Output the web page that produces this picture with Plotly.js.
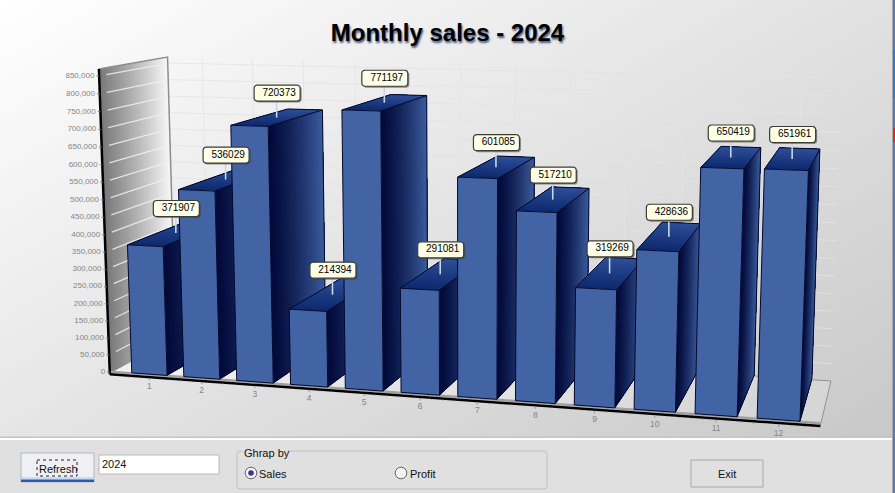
<!DOCTYPE html>
<html><head><meta charset="utf-8">
<script src="https://cdn.plot.ly/plotly-3.0.1.min.js"></script>
<style>
html,body{margin:0;padding:0;width:895px;height:493px;overflow:hidden;background:#e0e0e0}
#bg{position:absolute;left:0;top:0;width:895px;height:438px;background:linear-gradient(150deg,#ffffff 0%,#e6e6e6 45%,#c8c8c8 100%)}
#chart{position:absolute;left:0;top:0;width:895px;height:493px}
</style></head><body>
<div id="bg"></div><div id="chart"></div>
<script>
// ---------- data ----------
const months = [1,2,3,4,5,6,7,8,9,10,11,12];
const sales = [371907,536029,720373,214394,771197,291081,601085,517210,319269,428636,650419,651961];
const yTicks = [0,50000,100000,150000,200000,250000,300000,350000,400000,450000,500000,550000,600000,650000,700000,750000,800000,850000];
const yTickLabels = ["0","50,000","100,000","150,000","200,000","250,000","300,000","350,000","400,000","450,000","500,000","550,000","600,000","650,000","700,000","750,000","800,000","850,000"];

// ---------- perspective projection (month, value, depth) -> plot units ----------
function solve(A,b){const n=b.length;const M=A.map((r,i)=>r.concat(b[i]));
  for(let i=0;i<n;i++){let p=i;for(let j=i+1;j<n;j++)if(Math.abs(M[j][i])>Math.abs(M[p][i]))p=j;
    [M[i],M[p]]=[M[p],M[i]];
    for(let j=0;j<n;j++)if(j!==i){const f=M[j][i]/M[i][i];for(let k=i;k<=n;k++)M[j][k]-=f*M[i][k];}}
  return M.map((r,i)=>r[n]/r[i]);}
const HW=0.34, ZB=1, ZF=-0.05, ZK=0.98, X0=0.3, X1=12.67;
// camera calibration: [bar, side(-1 left/+1 right), top?, screen x, screen y]
const cal=[[1,-1,0,131.7,373.3],[1,-1,1,127.3,245],[1,1,0,167.3,375],[1,1,1,164,246.7],
 [3,-1,1,230,125],[3,1,1,269.3,126],[4,-1,0,290,384],[4,1,0,328.3,386.7],[4,-1,1,288.7,309.3],[4,1,1,326.7,311.7],
 [5,-1,1,341,110],[5,1,1,381,111],[6,-1,0,400,393.3],[7,1,1,498.3,179],[8,-1,0,515.7,400.7],[8,1,1,557.7,212.7],
 [9,-1,0,574,405],[9,1,0,615.7,407.7],[10,-1,0,634,409.3],[10,1,0,676,411.7],[11,-1,0,694.3,414],[11,1,0,737.7,416.7],
 [11,-1,1,699.3,167.3],[11,1,1,744.3,169],[12,-1,0,756,418.3],[12,1,0,800.7,421],[12,-1,1,764,169],[12,1,1,809,170.7]];
const rows=[],rhs=[];
cal.forEach(c=>{const X=c[0]+c[1]*HW,Y=c[2]?sales[c[0]-1]/1e6:0,u=c[3],v=c[4];
  rows.push([X,Y,1,0,0,0,-u*X,-u*Y]);rhs.push(u);
  rows.push([0,0,0,X,Y,1,-v*X,-v*Y]);rhs.push(v);});
const N=8,AtA=[],Atb=[];
for(let i=0;i<N;i++){AtA.push(new Array(N).fill(0));Atb.push(0);
  rows.forEach((r,k)=>{for(let j=0;j<N;j++)AtA[i][j]+=r[i]*r[j];Atb[i]+=r[i]*rhs[k];});}
const h=solve(AtA,Atb);
const VP=[940,-78];
const w7=h[6]*7+h[7]*0.3+1;
const kappa=(0.082/(1-0.082))*w7;
function P(X,V,Z){const Y=V/1e6;
  const u=h[0]*X+h[1]*Y+h[2]+Z*kappa*VP[0];
  const v=h[3]*X+h[4]*Y+h[5]+Z*kappa*VP[1];
  const w=h[6]*X+h[7]*Y+1+Z*kappa;
  return [u/w,v/w];}
// the wall scale of the reference sits slightly apart from the bar scale
const wallV=v=>0.994*v+4000;

const traces=[];
function poly(pts,fill,line,lw){traces.push({type:'scatter',mode:lw?'lines':'none',x:pts.map(p=>p[0]).concat(pts[0][0]),y:pts.map(p=>p[1]).concat(pts[0][1]),
  fill:'toself',fillcolor:fill,line:{color:line||fill,width:lw||0},hoverinfo:'skip',showlegend:false});}
function lines(segs,color,w){const x=[],y=[];segs.forEach(s=>{s.forEach(p=>{x.push(p[0]);y.push(p[1]);});x.push(null);y.push(null);});
  traces.push({type:'scatter',mode:'lines',x,y,line:{color,width:w},hoverinfo:'skip',showlegend:false});}
function texts(pts,txt,pos,size,color){traces.push({type:'scatter',mode:'text',x:pts.map(p=>p[0]),y:pts.map(p=>p[1]),text:txt,textposition:pos,
  textfont:{family:'Liberation Sans, Arial, sans-serif',size,color},hoverinfo:'skip',showlegend:false});}
function mix(a,b,t){const c=a.map((v,i)=>Math.round(v+(b[i]-v)*t));return `rgb(${c[0]},${c[1]},${c[2]})`;}
function rrect(cx,cy,w,ht,r){const pts=[];const cs=[[cx+w/2-r,cy-ht/2+r,-90],[cx+w/2-r,cy+ht/2-r,0],[cx-w/2+r,cy+ht/2-r,90],[cx-w/2+r,cy-ht/2+r,180]];
  cs.forEach(c=>{for(let a=0;a<=90;a+=30){const t=(c[2]+a)*Math.PI/180;pts.push([c[0]+r*Math.cos(t),c[1]+r*Math.sin(t)]);}});return pts;}

// ---------- back wall and grid ----------
const VT=868000, VB=0;
lines(yTicks.map(v=>[P(X0,v,ZK),P(X1,v,ZK)]),'rgba(228,228,228,0.8)',1);
lines(months.map(m=>[P(m,VB,ZK),P(m,VT,ZK)]),'rgba(228,228,228,0.8)',1);

// ---------- left wall ----------
const WN=24, wc0=[122,122,122], wc1=[245,245,245];
for(let i=0;i<WN;i++){const a=ZF+(ZK-ZF)*i/WN;const col=mix(wc0,wc1,i/(WN-1));
  poly([P(X0,VB,a),P(X0,VT,a),P(X0,VT,ZK),P(X0,VB,ZK)],col);}
lines(yTicks.slice(1).map(v=>[P(X0,wallV(v),ZF+0.1),P(X0,wallV(v),ZK-0.02)]),'rgba(240,240,240,0.85)',1.3);
lines([[P(X0,VT,ZF),P(X0,VT,ZK),P(X0,VB,ZK)]],'#8e8e8e',1.5);

// ---------- floor ----------
const FN=10;
for(let i=0;i<FN;i++){const a=X0+(X1-X0)*i/FN;poly([P(a,VB,ZF),P(X1,VB,ZF),P(X1,VB,ZK),P(a,VB,ZK)],mix([240,240,240],[214,214,214],i/(FN-1)));}
lines([[P(X1,VB,ZF),P(X1,VB,ZK),P(X0,VB,ZK)]],'#8f8f8f',1);
lines([[P(X0,VB+5000,ZF),P(X1,VB+5000,ZF)]],'#a0a0a0',2.5);
lines([[P(X0,VB-2500,ZF),P(X1,VB-2500,ZF)]],'#000000',2.5);
lines([[P(X0,VT,ZF),P(X0,VB-2500,ZF)]],'#000000',2.5);

// ---------- axis ticks ----------
lines(yTicks.map(v=>[P(X0,wallV(v),ZF),P(X0-0.05,wallV(v),ZF)]),'#777777',1);
texts(yTicks.map(v=>P(X0-0.09,wallV(v),ZF)),yTickLabels,'middle left',8,'#858585');
const tickAt=(x,v)=>[P(x,0,0)[0],P(x,v,ZF)[1]];
const minor=[];months.forEach(m=>{[-0.4,-0.2,0.2,0.4].forEach(d=>minor.push([tickAt(m+d,VB-6000),tickAt(m+d,VB-9000)]));});
lines(minor,'#9a9a9a',1);
lines(months.map(m=>[tickAt(m,VB-6000),tickAt(m,VB-13000)]),'#9a9a9a',1);
texts(months.map(m=>tickAt(m,VB-31000)),months.map(String),'middle center',8.5,'#858585');

// ---------- bars ----------
const SN=24, TN=12;
const sideA=[2,10,58], sideB=[58,90,155], topA=[14,42,112], topB=[44,78,150];
months.forEach((m,i)=>{const v=sales[i],L=m-HW,R=m+HW;
  for(let s=0;s<SN;s++){const a=ZB*s/SN,col=mix(sideA,sideB,(s/(SN-1))**1.2);
    poly([P(R,0,a),P(R,v,a),P(R,v,ZB),P(R,0,ZB)],col);}
  for(let s=0;s<TN;s++){const a=ZB*s/TN,col=mix(topA,topB,s/(TN-1));
    poly([P(L,v,a),P(R,v,a),P(R,v,ZB),P(L,v,ZB)],col);}
  poly([P(L,0,0),P(R,0,0),P(R,v,0),P(L,v,0)],'#4264a5');
  lines([[P(L,0,0),P(L,v,0),P(R,v,0),P(R,0,0),P(L,0,0)],[P(L,v,0),P(L,v,ZB),P(R,v,ZB),P(R,v,0)],[P(R,v,ZB),P(R,0,ZB),P(R,0,0)]],'#03082a',1);
});

// ---------- value callouts ----------
const stems=[],boxC=[];
months.forEach((m,i)=>{const a=P(m-HW,sales[i],0),b=P(m+HW,sales[i],ZB);const c=[(a[0]+b[0])/2,(a[1]+b[1])/2];
  const lc=[c[0]+0.5,c[1]-24.5];stems.push([c,[c[0],lc[1]]]);boxC.push(lc);});
lines(stems,'#c9d6ea',1.6);
boxC.forEach(c=>{poly(rrect(c[0]+1.5,c[1]+1.5,46,16,3),'rgba(60,60,60,0.55)');poly(rrect(c[0],c[1],46,16,3),'#ffffe8','#3c3c34',1.2);});
texts(boxC.map(c=>[c[0]+2,c[1]]),sales.map(String),'middle center',10,'#000000');

// ---------- window controls (non-data chrome) ----------
const shapes=[
 {type:'rect',xref:'paper',yref:'paper',x0:0,x1:1,y0:0,y1:(493-438)/493,fillcolor:'#e0e0e0',line:{width:0},layer:'above'},
];
function pxRect(x0,y0,x1,y1,fill,line,lw){return {type:'rect',xref:'x',yref:'y',x0,y0,x1,y1,fillcolor:fill,line:{color:line||fill,width:lw||0},layer:'above'};}
shapes.push(pxRect(0,436.5,895,438,'#c4c4c4'));
shapes.push(pxRect(0,438,892,440,'#ffffff'));
shapes.push(pxRect(892,0,893,493,'#a8a8a8'));
shapes.push(pxRect(893,0,895,493,'#5b78ae'));
shapes.push(pxRect(893,50,895,98,'#2a78d0'));
shapes.push(pxRect(893,128,895,142,'#e82020'));
shapes.push(pxRect(21,453,94,482,'#eef0f4','#b4b8bc',1));
shapes.push(pxRect(22,477,93,479.5,'#c8daf5'));
shapes.push(pxRect(21,479.5,94,482,'#2f58b0'));
shapes.push(pxRect(37,460,77,476,'rgba(0,0,0,0)','#222222',1));
shapes[shapes.length-1].line.dash='dot';
shapes.push(pxRect(99,455,219,474,'#ffffff','#b8b8b8',1));
shapes.push({type:'path',xref:'x',yref:'y',layer:'above',fillcolor:'rgba(0,0,0,0)',line:{color:'#c0c0c0',width:1},
  path:'M 240 451 L 544 451 Q 547 451 547 454 L 547 486 Q 547 489 544 489 L 240 489 Q 237 489 237 486 L 237 454 Q 237 451 240 451 Z'});
shapes.push(pxRect(243,448,288,456,'#e0e0e0'));
function circle(cx,cy,r,fill,line,lw){return {type:'circle',xref:'x',yref:'y',x0:cx-r,x1:cx+r,y0:cy-r,y1:cy+r,fillcolor:fill,line:{color:line,width:lw},layer:'above'};}
shapes.push(circle(251,473,5.8,'#f4f4f4','#666666',1));
shapes.push(circle(251,473,2.8,'#4a2ea0','#4a2ea0',0));
shapes.push(circle(401,473,5.8,'#f4f4f4','#666666',1));
shapes.push(pxRect(691,460,763,487,'#e0e0e0','#a8a8a8',1));

function note(x,y,text,size,anchor){return {xref:'x',yref:'y',x,y,text,showarrow:false,xanchor:anchor||'left',yanchor:'middle',font:{family:'Liberation Sans, Arial, sans-serif',size:size||12,color:'#111111'}};}
const annotations=[note(58,469,'Refresh',11,'center'),note(100,464,'2024',11),note(242,453,'Ghrap by',11),note(257,474,'Sales',11),note(408,474,'Profit',11),note(727,474,'Exit',11,'center')];

Plotly.newPlot('chart',traces,{
  width:895,height:493,margin:{l:0,r:0,t:0,b:0},autosize:false,
  paper_bgcolor:'rgba(0,0,0,0)',plot_bgcolor:'rgba(0,0,0,0)',showlegend:false,hovermode:false,
  title:{text:'<b>Monthly sales - 2024</b>',x:0.5,xanchor:'center',y:0.933,yanchor:'middle',
    font:{family:'Liberation Sans, Arial, sans-serif',size:24,color:'#000000',shadow:'1px 2px 2px #4a5a80'}},
  xaxis:{range:[0,895],visible:false,fixedrange:true},
  yaxis:{range:[493,0],visible:false,fixedrange:true},
  shapes,annotations
},{displayModeBar:false,staticPlot:true});
</script></body></html>
